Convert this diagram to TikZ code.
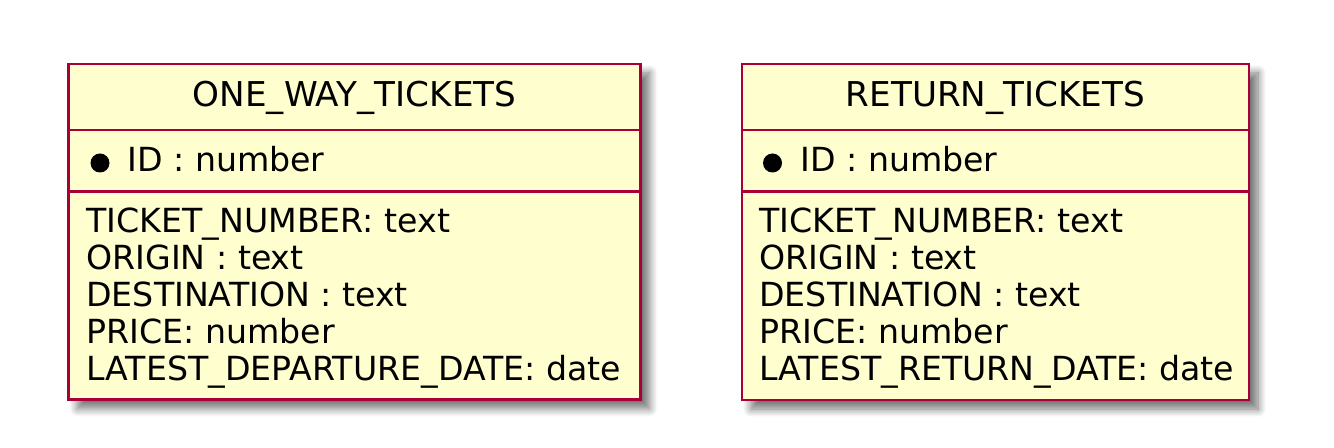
\documentclass[tikz,border=0pt]{standalone}
\usepackage{fontspec}
\setmainfont{DejaVu Sans}
\usepackage{xcolor}
\usepackage{tikz}
\usetikzlibrary{positioning,shadows.blur}
\definecolor{entityfill}{HTML}{FEFECE}
\definecolor{entityline}{HTML}{A80036}

\begin{document}
\begin{tikzpicture}[x=0.5pt, y=-0.5pt,
  entity/.style={draw=entityline, fill=entityfill, line width=1.3pt, inner sep=0pt,
    blur shadow={shadow xshift=4.5pt, shadow yshift=-4.5pt, shadow blur radius=4pt, shadow blur steps=10, shadow blur extra rounding=0pt, shadow opacity=55}},
  divider/.style={draw=entityline, line width=1.3pt},
  title/.style={font=\fontsize{17.1}{18.5}\selectfont, anchor=base, inner sep=0pt},
  field/.style={font=\fontsize{16.6}{18.5}\selectfont, anchor=base west, inner sep=0pt},
  keydot/.style={circle, fill=black, inner sep=0pt, minimum size=9.5pt}
]
  \useasboundingbox (0,0) rectangle (1334,448);

  % one-way tickets
  \node[entity, minimum width=286pt, minimum height=167.75pt] (ow) at (354.5,231.75) {};
  \draw[divider] (ow.west |- 0,130) -- (ow.east |- 0,130);
  \draw[divider] (ow.west |- 0,191.5) -- (ow.east |- 0,191.5);
  \node[title] (ow-title) at (354.5,107) {ONE\_WAY\_TICKETS};
  \node[keydot] (ow-dot) at (100,163) {};
  \node[field] (ow-key) at (127,172) {ID : number};
  \foreach \txt [count=\i] in {TICKET\_NUMBER: text, ORIGIN : text, DESTINATION : text, PRICE: number, LATEST\_DEPARTURE\_DATE: date}
    \node[field] (ow-f\i) at (86,233+37*\i-37) {\txt};

  % return tickets
  \node[entity, minimum width=253.5pt, minimum height=168pt] (rt) at (995.5,232) {};
  \draw[divider] (rt.west |- 0,130) -- (rt.east |- 0,130);
  \draw[divider] (rt.west |- 0,191.5) -- (rt.east |- 0,191.5);
  \node[title] (rt-title) at (995.5,107) {RETURN\_TICKETS};
  \node[keydot] (rt-dot) at (772.5,163) {};
  \node[field] (rt-key) at (800,172) {ID : number};
  \foreach \txt [count=\i] in {TICKET\_NUMBER: text, ORIGIN : text, DESTINATION : text, PRICE: number, LATEST\_RETURN\_DATE: date}
    \node[field] (rt-f\i) at (759,233+37*\i-37) {\txt};
\end{tikzpicture}
\end{document}
